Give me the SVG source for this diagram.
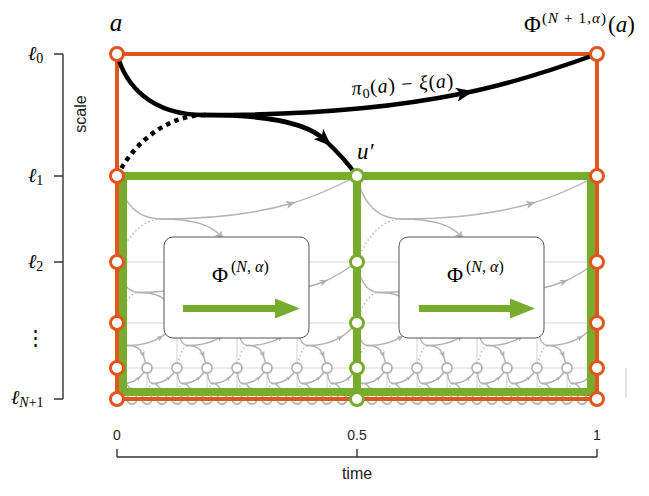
<svg xmlns="http://www.w3.org/2000/svg" xmlns:xlink="http://www.w3.org/1999/xlink" width="649" height="496" viewBox="0 0 649 496">
<style>
.grid{stroke:#dadada;stroke-width:1.2;fill:none}
.g{stroke:#b3b3b3;stroke-width:1.4;fill:none;stroke-linecap:round}
.gd{stroke:#b3b3b3;stroke-width:1.4;fill:none;stroke-dasharray:1.4 2.6}
.k{stroke:#000;stroke-width:4.5;fill:none;stroke-linecap:round}
.kd{stroke:#000;stroke-width:4.5;fill:none;stroke-dasharray:4.5 4.5}
.gc{fill:#fff;stroke:#b3b3b3;stroke-width:1.8}
.oc{fill:#fff;stroke:#E0561D;stroke-width:3}
.grc{fill:#fff;stroke:#78AC2F;stroke-width:3}
.ol{stroke:#E0561D;stroke-width:4;fill:none}
.gl{stroke:#78AC2F;stroke-width:8;fill:none}
.box{fill:#fff;stroke:#555;stroke-width:1}
.ax{stroke:#333;stroke-width:1.4;fill:none}
.serif{font-family:"Liberation Serif","DejaVu Serif",serif;fill:#000}
.sans{font-family:"Liberation Sans",Arial,sans-serif;fill:#222}
</style>
<defs>
<marker id="ak" viewBox="0 0 10 8" refX="5" refY="4" markerWidth="18" markerHeight="14" markerUnits="userSpaceOnUse" orient="auto"><path d="M0,0 L10,4 L0,8 L2.5,4 Z" fill="#000"/></marker>
<marker id="a1" viewBox="0 0 10 8" refX="5" refY="4" markerWidth="10" markerHeight="8" markerUnits="userSpaceOnUse" orient="auto"><path d="M0,0 L10,4 L0,8 L2.5,4 Z" fill="#b3b3b3"/></marker>
<marker id="a2" viewBox="0 0 10 8" refX="5" refY="4" markerWidth="8.5" markerHeight="6.8" markerUnits="userSpaceOnUse" orient="auto"><path d="M0,0 L10,4 L0,8 L2.5,4 Z" fill="#b3b3b3"/></marker>
<marker id="a3" viewBox="0 0 10 8" refX="5" refY="4" markerWidth="7" markerHeight="5.6" markerUnits="userSpaceOnUse" orient="auto"><path d="M0,0 L10,4 L0,8 L2.5,4 Z" fill="#b3b3b3"/></marker>
<marker id="a4" viewBox="0 0 10 8" refX="5" refY="4" markerWidth="5.5" markerHeight="4.4" markerUnits="userSpaceOnUse" orient="auto"><path d="M0,0 L10,4 L0,8 L2.5,4 Z" fill="#b3b3b3"/></marker>
<circle id="gn" r="5" class="gc"/>
<g id="m1">
<path class="g" d="M117,176 C121.1,197.5 133.6,219 160.9,219"/>
<path class="g" marker-mid="url(#a1)" d="M160.9,219 C225,219 262.2,211.7 291,203.5 C315,196.7 340.2,184.6 357,176"/>
<path class="g" marker-mid="url(#a1)" d="M160.9,219 C196.2,219 213,225.9 220.9,236.6 C228.1,246.1 232.7,253.4 237,262"/>
<path class="gd" d="M117,262 C123.5,243.7 138.6,219.7 160.9,219"/>
</g>
<g id="m2">
<path class="g" d="M117,262 C119,277.3 125.3,292.5 139,292.5"/>
<path class="g" marker-mid="url(#a2)" d="M139,292.5 C171,292.5 189.6,287.3 204,281.5 C216,276.7 228.6,268.1 237,262"/>
<path class="g" marker-mid="url(#a2)" d="M139,292.5 C156.6,292.5 165,297.4 169,305 C172.6,311.7 174.8,316.9 177,323"/>
<path class="gd" d="M117,323 C120.2,310 127.8,293 139,292.5"/>
</g>
<g id="m3">
<path class="g" d="M117,323 C118,334.3 121.1,345.5 128,345.5"/>
<path class="g" marker-mid="url(#a3)" d="M128,345.5 C144,345.5 153.3,341.7 160.5,337.4 C166.5,333.8 172.8,327.5 177,323"/>
<path class="g" marker-mid="url(#a3)" d="M128,345.5 C136.8,345.5 141,349.1 143,354.7 C144.8,359.7 145.9,363.5 147,368"/>
<path class="gd" d="M117,368 C118.6,358.4 122.4,345.9 128,345.5"/>
</g>
<g id="m4">
<path class="g" d="M117,368 C117.5,375.8 119.1,383.5 122.5,383.5"/>
<path class="g" marker-mid="url(#a4)" d="M122.5,383.5 C130.5,383.5 135.2,380.9 138.8,377.9 C141.8,375.5 144.9,371.1 147,368"/>
<path class="g" marker-mid="url(#a4)" d="M122.5,383.5 C126.9,383.5 129,386 130,389.9 C130.9,393.3 131.5,395.9 132,399"/>
<path class="gd" d="M117,399 C117.8,392.4 119.7,383.7 122.5,383.5"/>
</g>
</defs>

<g id="grid">
<path class="grid" d="M117,262H597M117,323H597M117,368H597"/>
<path class="grid" d="M237,262V399M477,262V399M177,323V399M297,323V399M417,323V399M537,323V399M147,368V399M207,368V399M267,368V399M327,368V399M387,368V399M447,368V399M507,368V399M567,368V399"/>
<line x1="626" y1="368" x2="626" y2="398" stroke="#c8c8c8" stroke-width="1"/>
</g>

<g id="connectors">
<use xlink:href="#m1"/><use xlink:href="#m1" x="240"/>
<use xlink:href="#m2"/><use xlink:href="#m2" x="120"/><use xlink:href="#m2" x="240"/><use xlink:href="#m2" x="360"/>
<use xlink:href="#m3"/><use xlink:href="#m3" x="60"/><use xlink:href="#m3" x="120"/><use xlink:href="#m3" x="180"/><use xlink:href="#m3" x="240"/><use xlink:href="#m3" x="300"/><use xlink:href="#m3" x="360"/><use xlink:href="#m3" x="420"/>
<use xlink:href="#m4"/><use xlink:href="#m4" x="30"/><use xlink:href="#m4" x="60"/><use xlink:href="#m4" x="90"/><use xlink:href="#m4" x="120"/><use xlink:href="#m4" x="150"/><use xlink:href="#m4" x="180"/><use xlink:href="#m4" x="210"/><use xlink:href="#m4" x="240"/><use xlink:href="#m4" x="270"/><use xlink:href="#m4" x="300"/><use xlink:href="#m4" x="330"/><use xlink:href="#m4" x="360"/><use xlink:href="#m4" x="390"/><use xlink:href="#m4" x="420"/><use xlink:href="#m4" x="450"/>
</g>

<g id="gray-nodes">
<use xlink:href="#gn" x="237" y="262"/><use xlink:href="#gn" x="477" y="262"/>
<use xlink:href="#gn" x="177" y="323"/><use xlink:href="#gn" x="237" y="323"/><use xlink:href="#gn" x="297" y="323"/><use xlink:href="#gn" x="417" y="323"/><use xlink:href="#gn" x="477" y="323"/><use xlink:href="#gn" x="537" y="323"/>
<use xlink:href="#gn" x="147" y="368"/><use xlink:href="#gn" x="177" y="368"/><use xlink:href="#gn" x="207" y="368"/><use xlink:href="#gn" x="237" y="368"/><use xlink:href="#gn" x="267" y="368"/><use xlink:href="#gn" x="297" y="368"/><use xlink:href="#gn" x="327" y="368"/><use xlink:href="#gn" x="387" y="368"/><use xlink:href="#gn" x="417" y="368"/><use xlink:href="#gn" x="447" y="368"/><use xlink:href="#gn" x="477" y="368"/><use xlink:href="#gn" x="507" y="368"/><use xlink:href="#gn" x="537" y="368"/><use xlink:href="#gn" x="567" y="368"/>
<use xlink:href="#gn" x="132" y="399"/><use xlink:href="#gn" x="147" y="399"/><use xlink:href="#gn" x="162" y="399"/><use xlink:href="#gn" x="177" y="399"/><use xlink:href="#gn" x="192" y="399"/><use xlink:href="#gn" x="207" y="399"/><use xlink:href="#gn" x="222" y="399"/><use xlink:href="#gn" x="237" y="399"/><use xlink:href="#gn" x="252" y="399"/><use xlink:href="#gn" x="267" y="399"/><use xlink:href="#gn" x="282" y="399"/><use xlink:href="#gn" x="297" y="399"/><use xlink:href="#gn" x="312" y="399"/><use xlink:href="#gn" x="327" y="399"/><use xlink:href="#gn" x="342" y="399"/>
<use xlink:href="#gn" x="372" y="399"/><use xlink:href="#gn" x="387" y="399"/><use xlink:href="#gn" x="402" y="399"/><use xlink:href="#gn" x="417" y="399"/><use xlink:href="#gn" x="432" y="399"/><use xlink:href="#gn" x="447" y="399"/><use xlink:href="#gn" x="462" y="399"/><use xlink:href="#gn" x="477" y="399"/><use xlink:href="#gn" x="492" y="399"/><use xlink:href="#gn" x="507" y="399"/><use xlink:href="#gn" x="522" y="399"/><use xlink:href="#gn" x="537" y="399"/><use xlink:href="#gn" x="552" y="399"/><use xlink:href="#gn" x="567" y="399"/><use xlink:href="#gn" x="582" y="399"/>
</g>

<g id="phi-box-1">
<rect class="box" x="164" y="237" width="145" height="101" rx="9"/>
<text class="serif" x="212" y="282" font-size="22">Φ</text>
<text class="serif" x="231" y="272" font-size="16">(<tspan font-style="italic">N</tspan>, <tspan font-style="italic">α</tspan>)</text>
<line x1="183" y1="308.5" x2="280" y2="308.5" stroke="#78AC2F" stroke-width="7"/>
<polygon points="275,298.5 300,308.5 275,318.5" fill="#78AC2F"/>
</g>
<g id="phi-box-2">
<rect class="box" x="399" y="237" width="145" height="101" rx="9"/>
<text class="serif" x="447" y="282" font-size="22">Φ</text>
<text class="serif" x="466" y="272" font-size="16">(<tspan font-style="italic">N</tspan>, <tspan font-style="italic">α</tspan>)</text>
<line x1="419" y1="308.5" x2="515" y2="308.5" stroke="#78AC2F" stroke-width="7"/>
<polygon points="510,298.5 535,308.5 510,318.5" fill="#78AC2F"/>
</g>

<g id="green-frame">
<path class="gl" d="M117,176H597M123,176V392H591V176M357,176V399"/>
</g>
<g id="orange-frame">
<path class="ol" d="M117,54H597V399H117Z"/>
</g>

<g id="top-connectors">
<path class="k" d="M117,54 C125.2,84.5 150.1,115 204.8,115"/>
<path class="k" marker-mid="url(#ak)" d="M204.8,115 C333,115 407.4,104.6 465,93 C513,83.4 563.4,66.2 597,54"/>
<path class="k" marker-mid="url(#ak)" d="M204.8,115 C275.4,115 309,124.8 324.8,140 C339.2,153.4 348.4,163.8 357,176"/>
<path class="kd" d="M117,176 C130,150 160.2,116 204.8,115"/>
<text class="serif" x="352" y="95" font-size="20" textLength="102" lengthAdjust="spacing" transform="rotate(-4.5 352 95)"><tspan font-style="italic">π</tspan><tspan font-size="14" dy="4">0</tspan><tspan dy="-4">(<tspan font-style="italic">a</tspan>) − <tspan font-style="italic">ξ</tspan>(<tspan font-style="italic">a</tspan>)</tspan></text>
</g>

<g id="node-a">
<circle class="oc" cx="117" cy="54" r="6.5"/>
<text class="serif" x="116" y="31" font-size="25" font-style="italic" text-anchor="middle">a</text>
</g>
<g id="node-phi-a">
<circle class="oc" cx="597" cy="54" r="6.5"/>
<text class="serif" x="524" y="32" font-size="23">Φ</text>
<text class="serif" x="542" y="23" font-size="15" textLength="64" lengthAdjust="spacing">(<tspan font-style="italic">N</tspan> + 1,<tspan font-style="italic">α</tspan>)</text>
<text class="serif" x="608" y="32" font-size="23">(<tspan font-style="italic">a</tspan>)</text>
</g>
<g id="orange-nodes">
<circle class="oc" cx="117" cy="176" r="6.5"/><circle class="oc" cx="117" cy="262" r="6.5"/><circle class="oc" cx="117" cy="323" r="6.5"/><circle class="oc" cx="117" cy="368" r="6.5"/><circle class="oc" cx="117" cy="399" r="6.5"/>
<circle class="oc" cx="597" cy="176" r="6.5"/><circle class="oc" cx="597" cy="262" r="6.5"/><circle class="oc" cx="597" cy="323" r="6.5"/><circle class="oc" cx="597" cy="368" r="6.5"/><circle class="oc" cx="597" cy="399" r="6.5"/>
</g>
<g id="node-u">
<circle class="grc" cx="357" cy="176" r="6.5"/>
<text class="serif" x="357" y="159" font-size="23" font-style="italic">u′</text>
</g>
<g id="green-nodes">
<circle class="grc" cx="357" cy="262" r="6.5"/><circle class="grc" cx="357" cy="323" r="6.5"/><circle class="grc" cx="357" cy="368" r="6.5"/><circle class="grc" cx="357" cy="399" r="6.5"/>
</g>

<g id="scale-axis">
<path class="ax" d="M63,54V399M54,54H63M54,176H63M54,262H63M54,399H63"/>
<text class="sans" font-size="16" transform="translate(86,114) rotate(-90)" text-anchor="middle">scale</text>
<text class="serif" x="28" y="60" font-size="20" font-style="italic">ℓ<tspan font-style="normal" font-size="14" dy="3">0</tspan></text>
<text class="serif" x="28" y="182" font-size="20" font-style="italic">ℓ<tspan font-style="normal" font-size="14" dy="3">1</tspan></text>
<text class="serif" x="28" y="268" font-size="20" font-style="italic">ℓ<tspan font-style="normal" font-size="14" dy="3">2</tspan></text>
<text class="serif" x="35" y="345" font-size="21" text-anchor="middle">⋮</text>
<text class="serif" x="11" y="404" font-size="20" font-style="italic">ℓ<tspan font-size="14" dy="3">N<tspan font-style="normal">+1</tspan></tspan></text>
</g>

<g id="time-axis">
<path class="ax" d="M117,457H597M117,449V457M357,449V457M597,449V457"/>
<text class="sans" x="117" y="440" font-size="14" text-anchor="middle">0</text>
<text class="sans" x="357" y="440" font-size="14" text-anchor="middle">0.5</text>
<text class="sans" x="597" y="440" font-size="14" text-anchor="middle">1</text>
<text class="sans" x="357" y="479" font-size="16" text-anchor="middle">time</text>
</g>
</svg>
